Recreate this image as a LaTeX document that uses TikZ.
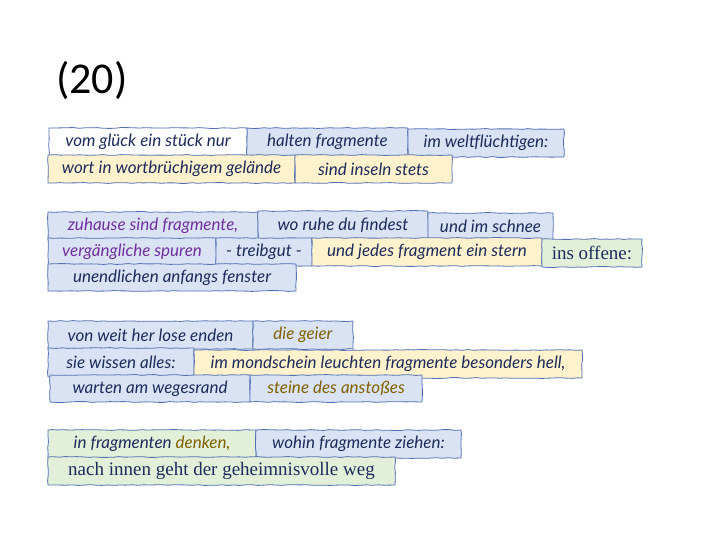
\documentclass[tikz,border=0pt]{standalone}
\usepackage{fontspec}
\setmainfont{Liberation Serif}
\newfontfamily\handfont{Lato}
\newfontfamily\titlefont{Carlito}
\usetikzlibrary{decorations.pathmorphing}
\definecolor{edge}{RGB}{84,112,180}
\definecolor{fblue}{RGB}{218,227,243}
\definecolor{fyellow}{RGB}{255,242,204}
\definecolor{fgreen}{RGB}{226,240,217}
\definecolor{ink}{RGB}{28,44,92}
\definecolor{purp}{RGB}{112,48,160}
\definecolor{gold}{RGB}{128,96,0}
\tikzset{
  frag/.style={draw=edge, line width=0.8pt, inner sep=0pt, text=ink,
    font=\handfont\itshape\fontsize{17}{19}\selectfont,
    decorate, decoration={random steps, segment length=6pt, amplitude=0.45pt}},
  serif/.style={font=\rmfamily\fontsize{19}{21}\selectfont},
}
% #2 name, #3 x1, #4 y1, #5 x2, #6 y2, #7 fill
\newcommand\fragbox[7][]{%
  \node[frag, fill=#7, minimum width={#5pt-#3pt}, minimum height={#6pt-#4pt}, #1]
    (#2) at ({(#3+#5)/2},{(#4+#6)/2})}
\begin{document}
\begin{tikzpicture}[x=1pt,y=-1pt]
\pgfmathsetseed{7}
\path[use as bounding box] (0,0) rectangle (720,540);
\node[font=\titlefont\fontsize{44}{52}\selectfont, text=black] (title) at (92,80) {(20)};
% group 1
\fragbox{a1}{49}{128}{247}{156}{white} {vom glück ein stück nur};
\fragbox{a2}{247}{128}{408}{156}{fblue} {halten fragmente};
\fragbox{a3}{408}{129}{564}{157}{fblue} {im weltflüchtigen:};
\fragbox{a4}{48}{155}{295}{183}{fyellow} {wort in wortbrüchigem gelände};
\fragbox{a5}{295}{155}{452}{183}{fyellow} {sind inseln stets};
% group 2
\fragbox[text=purp]{b1}{48}{212}{258}{240}{fblue} {zuhause sind fragmente,};
\fragbox{b2}{258}{211}{428}{239}{fblue} {wo ruhe du findest};
\fragbox{b3}{428}{213}{553}{240}{fblue} {und im schnee};
\fragbox[text=purp]{b4}{48}{238}{216}{266}{fblue} {vergängliche spuren};
\fragbox{b5}{216}{238}{312}{266}{fblue} {- treibgut -};
\fragbox{b6}{312}{238}{542}{266}{fyellow} {und jedes fragment ein stern};
\fragbox[serif]{b7}{542}{239}{642}{267}{fgreen} {ins offene:};
\fragbox{b8}{48}{264}{296}{291}{fblue} {unendlichen anfangs fenster};
% group 3
\fragbox{c1}{48}{321}{253}{349}{fblue} {von weit her lose enden};
\fragbox[text=gold]{c2}{253}{321}{353}{349}{fblue} {die geier};
\fragbox{c3}{48}{348}{194}{377}{fblue} {sie wissen alles:};
\fragbox{c4}{194}{350}{582}{378}{fyellow} {im mondschein leuchten fragmente besonders hell,};
\fragbox{c5}{50}{375}{250}{402}{fblue} {warten am wegesrand};
\fragbox[text=gold]{c6}{250}{375}{422}{402}{fblue} {steine des anstoßes};
% group 4
\fragbox{d1}{48}{430}{256}{458}{fgreen} {in fragmenten \textcolor{gold}{denken,}};
\fragbox{d2}{256}{430}{461}{458}{fblue} {wohin fragmente ziehen:};
\fragbox[serif]{d3}{48}{457}{395}{485}{fgreen} {nach innen geht der geheimnisvolle weg};
\end{tikzpicture}
\end{document}
